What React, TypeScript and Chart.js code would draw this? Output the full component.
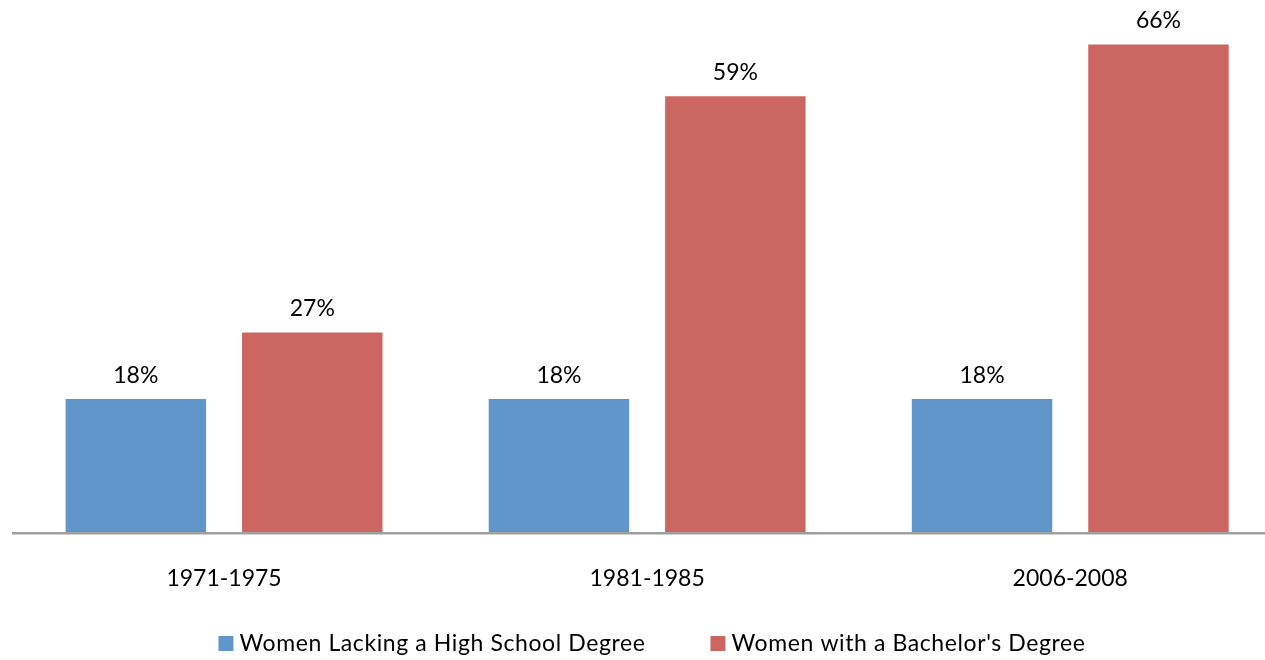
import { useEffect, useRef } from "react";
import { Chart, registerables } from "chart.js";

Chart.register(...registerables);

// Share of births, by mother's education and period
const periods = ["1971-1975", "1981-1985", "2006-2008"];
const lackingHighSchool = [18, 18, 18];
const withBachelors = [27, 59, 66];
const seriesNames = [
  "Women Lacking a High School Degree",
  "Women with a Bachelor's Degree",
];
const seriesColors = ["#6196CA", "#CC6660"];
const yMax = 70;

const FONT = '23px Lato, "Open Sans", sans-serif';
const CANVAS_W = 1290;
const CANVAS_H = 660;

// Axis line, value labels, category labels and legend drawn on top of the bars
const annotate = {
  id: "annotate",
  afterDatasetsDraw(chart: any) {
    const { ctx, chartArea } = chart;
    const xScale = chart.scales.x;
    ctx.save();

    // baseline axis
    ctx.strokeStyle = "#A0A0A0";
    ctx.lineWidth = 2.5;
    ctx.beginPath();
    ctx.moveTo(chartArea.left - 0.5, chartArea.bottom + 1.25);
    ctx.lineTo(chart.width, chartArea.bottom + 1.25);
    ctx.stroke();

    ctx.font = FONT;
    ctx.fillStyle = "#000";
    ctx.textAlign = "center";
    ctx.textBaseline = "alphabetic";

    // value labels above each bar
    chart.data.datasets.forEach((ds: any, i: number) => {
      const meta = chart.getDatasetMeta(i);
      meta.data.forEach((bar: any, j: number) => {
        ctx.fillText(`${ds.data[j]}%`, bar.x, bar.y - 16.5);
      });
    });

    // category labels
    periods.forEach((label, i) => {
      ctx.fillText(label, xScale.getPixelForValue(i), chartArea.bottom + 54);
    });

    // legend
    (ctx as any).letterSpacing = "0.6px";
    const box = 15;
    const boxGap = 6;
    const itemGap = 65;
    const widths = seriesNames.map((n) => ctx.measureText(n).width);
    const total =
      widths.reduce((a: number, w: number) => a + w + box + boxGap, 0) +
      itemGap * (seriesNames.length - 1);
    let x = 652 - total / 2;
    const baseline = 650.5;
    ctx.textAlign = "left";
    seriesNames.forEach((name, i) => {
      ctx.fillStyle = seriesColors[i];
      ctx.fillRect(x, baseline - 14.5, box, box);
      ctx.fillStyle = "#000";
      ctx.fillText(name, x + box + boxGap, baseline);
      x += box + boxGap + widths[i] + itemGap;
    });

    ctx.restore();
  },
};

export default function App() {
  const canvasRef = useRef<HTMLCanvasElement | null>(null);

  useEffect(() => {
    const canvas = canvasRef.current;
    if (!canvas) return;
    const chart = new Chart(canvas, {
      type: "bar",
      data: {
        labels: periods,
        datasets: [
          {
            label: seriesNames[0],
            data: lackingHighSchool,
            backgroundColor: seriesColors[0],
            borderWidth: 0,
            categoryPercentage: 0.834,
            barPercentage: 0.796,
          },
          {
            label: seriesNames[1],
            data: withBachelors,
            backgroundColor: seriesColors[1],
            borderWidth: 0,
            categoryPercentage: 0.834,
            barPercentage: 0.796,
          },
        ],
      },
      options: {
        responsive: false,
        animation: false,
        devicePixelRatio: 1,
        layout: {
          padding: { left: 12.5, right: CANVAS_W - 1281.8, top: 15, bottom: 128 },
        },
        scales: {
          x: { display: false },
          y: { display: false, min: 0, max: yMax },
        },
        plugins: {
          legend: { display: false },
          tooltip: { enabled: false },
        },
      },
      plugins: [annotate],
    });
    return () => chart.destroy();
  }, []);

  return (
    <div
      style={{
        position: "fixed",
        left: 0,
        top: 0,
        width: 1265,
        height: 660,
        overflow: "hidden",
        background: "#fff",
      }}
    >
      <canvas
        ref={canvasRef}
        width={CANVAS_W}
        height={CANVAS_H}
        style={{ display: "block", width: CANVAS_W, height: CANVAS_H }}
      />
    </div>
  );
}
